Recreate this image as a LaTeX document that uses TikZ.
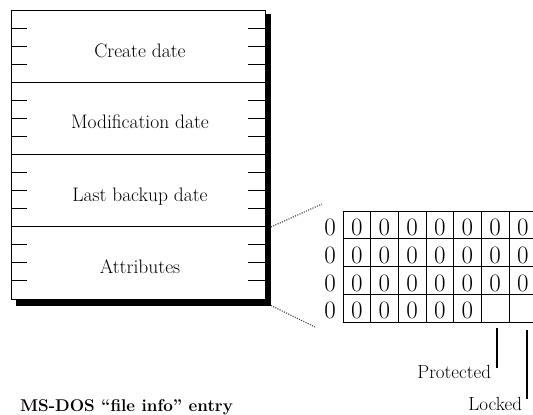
\documentclass[tikz,border=0pt]{standalone}
\begin{document}
\begin{tikzpicture}[x=1pt,y=-1pt,
  every node/.style={inner sep=0pt, outer sep=0pt},
  lbl/.style={font=\fontsize{19.5}{22}\selectfont, anchor=base},
  bitnum/.style={font=\fontsize{25}{27}\selectfont, anchor=base},
  tagtext/.style={font=\fontsize{19}{21}\selectfont, anchor=base east},
  tickmark/.style={line width=1pt},
  frame/.style={line width=0.9pt},
  gridline/.style={line width=0.9pt},
  leader/.style={line width=1.3pt},
  link/.style={dash pattern=on 1.1pt off 1.3pt, line width=1.1pt, black!75}]
\useasboundingbox (0,0) rectangle (533,415);
\clip (0,0) rectangle (533,415);

% record: drop shadow, frame, four fields
\fill[black] (16,14) rectangle (271,305.5);
\draw[frame, fill=white] (11,10) rectangle (265,299);
\foreach \y in {82.25,154.5,226.75}
  \draw[frame] (11,\y) -- (265,\y);
\foreach \s in {0,...,3}
  \foreach \k in {1,2,3} {
    \pgfmathsetmacro\yy{10+72.25*\s+18.06*\k}
    \draw[tickmark] (11,\yy) -- (27,\yy);
    \draw[tickmark] (248,\yy) -- (265,\yy);
  }
\node[lbl] (create) at (140,57) {Create date};
\node[lbl] (modif)  at (140,128) {Modification date};
\node[lbl] (backup) at (140,201) {Last backup date};
\node[lbl] (attr)   at (140,273) {Attributes};

% attribute bits
\foreach \r in {0,...,3}
  \draw[gridline] (343,211+27.8*\r) -- (540,211+27.8*\r);
\draw[gridline] (343,322.2) -- (540,322.2);
\foreach \c in {0,...,7}
  \draw[gridline] (343+27.67*\c,211) -- (343+27.67*\c,322.2);

\foreach \r in {0,...,3} {
  \node[bitnum] (lead\r) at (330,235.5+27.8*\r) {0};
}
\foreach \r in {0,1,2}
  \foreach \c in {0,...,6}
    \node[bitnum] (b\r\c) at (356.8+27.67*\c,235.5+27.8*\r) {0};
\foreach \c in {0,...,4}
  \node[bitnum] (b3\c) at (356.8+27.67*\c,235.5+27.8*3) {0};

% links from the Attributes field to the bits
\coordinate (attrTop) at (271,227);
\coordinate (attrBot) at (271,305.5);
\coordinate (bitsTop) at (322,204);
\coordinate (bitsBot) at (315,327);
\draw[link] (attrTop) -- (bitsTop);
\draw[link] (attrBot) -- (bitsBot);

% flag labels
\node[tagtext] (prot) at (491,378) {Protected};
\node[tagtext] (lock) at (522,410) {Locked};
\coordinate (protA) at (497,328);
\coordinate (protB) at (497,368);
\coordinate (lockA) at (527,330);
\coordinate (lockB) at (527,399);
\draw[leader] (protA) -- (protB);
\draw[leader] (lockA) -- (lockB);

% caption
\node[anchor=base west, font=\bfseries\fontsize{17}{20}\selectfont] (caption)
  at (20,411) {MS-DOS “file info” entry};
\end{tikzpicture}
\end{document}
